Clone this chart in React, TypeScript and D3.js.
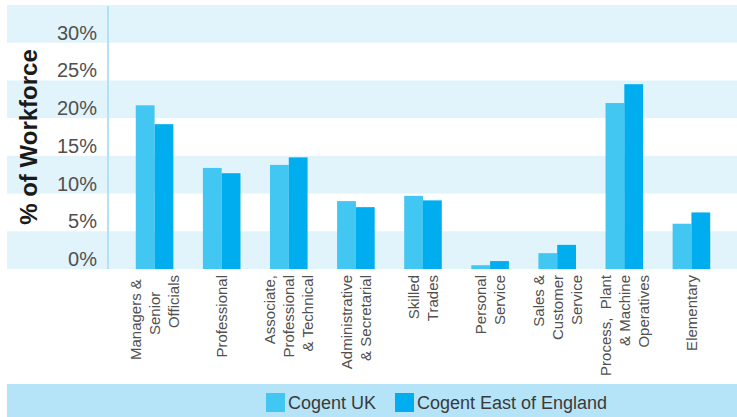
import React from 'react';
import * as d3 from 'd3';

const categories = [
  ['Managers & ', 'Senior    ', 'Officials'],
  ['Professional'],
  ['Associate,', 'Professional', '& Technical'],
  ['Administrative', '& Secretarial'],
  ['Skilled', 'Trades'],
  ['Personal', 'Service'],
  ['Sales &', 'Customer', 'Service'],
  ['Process,  Plant', '& Machine', 'Operatives'],
  ['Elementary'],
];
const ukValues = [21.7, 13.4, 13.8, 9.0, 9.7, 0.5, 2.1, 22.0, 6.0];
const eastValues = [19.2, 12.7, 14.8, 8.2, 9.1, 1.05, 3.2, 24.5, 7.5];
const seriesNames = ['Cogent UK', 'Cogent East of England'];
const seriesColors = ['#42c6f2', '#00aeef'];
const yTicks = [0, 5, 10, 15, 20, 25, 30];

const width = 737;
const height = 417;
const font = '"Liberation Sans", Arial, sans-serif';

const App = () => {
  const y = d3.scaleLinear().domain([0, 35]).range([269, 5]);
  const x = d3
    .scaleBand<number>()
    .domain(d3.range(categories.length))
    .range([108, 738])
    .paddingInner(0.44)
    .paddingOuter(0.414);
  const xs = d3
    .scaleBand<number>()
    .domain([0, 1])
    .range([0, x.bandwidth()]);
  const series = [ukValues, eastValues];
  const stripes = d3.range(7);

  return (
    <svg
      width={width}
      height={height}
      style={{ position: 'absolute', left: 0, top: 0, fontFamily: font }}
    >
      {/* alternating background stripes */}
      {stripes.map((i) =>
        i % 2 === 0 ? (
          <rect
            key={i}
            x={7}
            y={y(i * 5 + 5)}
            width={width - 7}
            height={y(i * 5) - y(i * 5 + 5)}
            fill="#e1f4fb"
          />
        ) : null,
      )}

      {/* bars */}
      {series.map((vals, s) =>
        vals.map((v, i) => (
          <rect
            key={`${s}-${i}`}
            x={(x(i) || 0) + (xs(s) || 0)}
            y={y(v)}
            width={xs.bandwidth()}
            height={y(0) - y(v)}
            fill={seriesColors[s]}
          />
        )),
      )}

      {/* axis line */}
      <line x1={108} x2={108} y1={y(35) + 1} y2={y(0)} stroke="#b5e1f7" strokeWidth={2} />

      {/* y tick labels */}
      {yTicks.map((t) => (
        <text
          key={t}
          x={97}
          y={y(t) - 3}
          textAnchor="end"
          fontSize={20}
          fill="#505050"
        >
          {`${t}%`}
        </text>
      ))}

      {/* y title */}
      <text
        transform={`translate(37,${(y(0) + y(35)) / 2}) rotate(-90)`}
        textAnchor="middle"
        fontSize={24}
        fontWeight="bold"
        fill="#1a1a1a"
      >
        % of Workforce
      </text>

      {/* category labels */}
      {categories.map((lines, i) => {
        const cx = (x(i) || 0) + x.bandwidth() / 2;
        return lines.map((line, j) => (
          <text
            key={`${i}-${j}`}
            transform={`translate(${cx + (j - (lines.length - 1) / 2) * 19},275) rotate(-90)`}
            textAnchor="end"
            dy="0.36em"
            fontSize={15}
            fill="#505050"
            style={{ whiteSpace: 'pre' }}
          >
            {line}
          </text>
        ));
      })}

      {/* legend */}
      <rect x={7} y={384} width={width - 7} height={33} fill="#b5e4f8" />
      {seriesNames.map((name, s) => {
        const lx = s === 0 ? 266 : 395;
        return (
          <g key={name}>
            <rect x={lx} y={393} width={19} height={19} fill={seriesColors[s]} />
            <text x={lx + 22} y={409} fontSize={18} fill="#3a3a3a">
              {name}
            </text>
          </g>
        );
      })}
    </svg>
  );
};

export default App;
